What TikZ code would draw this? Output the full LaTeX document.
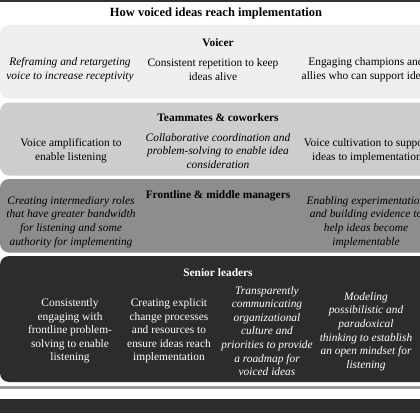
\documentclass[tikz,border=0pt]{standalone}
\usepackage{fontspec}
\setmainfont{Liberation Serif}
\definecolor{bandA}{HTML}{EFEFEF}
\definecolor{bandB}{HTML}{CDCDCD}
\definecolor{bandC}{HTML}{8D8D8D}
\definecolor{bandD}{HTML}{2C2C2C}
\definecolor{rule}{HTML}{333333}
\definecolor{greyline}{HTML}{9A9A9A}
\tikzset{
  x=1pt, y=-1pt,
  band/.style={rounded corners=9pt},
  item/.style={align=center, inner sep=0pt, font=\fontsize{11.4}{13.6}\selectfont},
  itemit/.style={item, font=\fontsize{11.4}{13.6}\selectfont\itshape},
  head/.style={inner sep=0pt, font=\fontsize{11.4}{13.6}\selectfont\bfseries},
}
\begin{document}
\begin{tikzpicture}
\useasboundingbox (0,0) rectangle (420,420);
\clip (0,0) rectangle (420,420);
\fill[white] (0,0) rectangle (420,420);
% top rule
\fill[rule] (0,0) rectangle (420,1.6);
% title
\node[inner sep=0pt, font=\fontsize{12.5}{14}\selectfont\bfseries] (title) at (216,13) {How voiced ideas reach implementation};
% bands
\fill[bandA, band] (480,25) -- (0,25) -- (0,98.5) -- (480,98.5) -- cycle;
\fill[bandB, band] (480,102.5) -- (0,102.5) -- (0,175.5) -- (480,175.5) -- cycle;
\fill[bandC, band] (480,179) -- (0,179) -- (0,252.5) -- (480,252.5) -- cycle;
\fill[bandD, band] (480,256) -- (0,256) -- (0,382) -- (480,382) -- cycle;
\fill[greyline] (0,386) rectangle (420,388.5);
\fill[bandD] (0,398.5) rectangle (420,413);
% Voicer
\node[head] (h1) at (218,43) {Voicer};
\node[itemit] (v1) at (70,69.5) {Reframing and retargeting\\voice to increase receptivity};
\node[item] (v2) at (213,69.5) {Consistent repetition to keep\\ideas alive};
\node[item] (v3) at (366,69.5) {Engaging champions and\\allies who can support ideas};
% Teammates
\node[head] (h2) at (218,118) {Teammates \& coworkers};
\node[item] (t1) at (71,151) {Voice amplification to\\enable listening};
\node[itemit] (t2) at (218,151) {Collaborative coordination and\\problem-solving to enable idea\\consideration};
\node[item] (t3) at (367,151) {Voice cultivation to support\\ideas to implementation};
% Frontline
\node[head] (h3) at (218,196) {Frontline \& middle managers};
\node[itemit] (f1) at (71,222) {Creating intermediary roles\\that have greater bandwidth\\for listening and some\\authority for implementing};
\node[itemit] (f2) at (366,222) {Enabling experimentation\\and building evidence to\\help ideas become\\implementable};
% Senior
\node[head, text=white] (h4) at (218,273) {Senior leaders};
\node[item, text=white] (s1) at (70,331) {Consistently\\engaging with\\frontline problem-\\solving to enable\\listening};
\node[item, text=white] (s2) at (169,331) {Creating explicit\\change processes\\and resources to\\ensure ideas reach\\implementation};
\node[itemit, text=white] (s3) at (267,331) {Transparently\\communicating\\organizational\\culture and\\priorities to provide\\a roadmap for\\voiced ideas};
\node[itemit, text=white] (s4) at (366,331.5) {Modeling\\possibilistic and\\paradoxical\\thinking to establish\\an open mindset for\\listening};
\end{tikzpicture}
\end{document}
